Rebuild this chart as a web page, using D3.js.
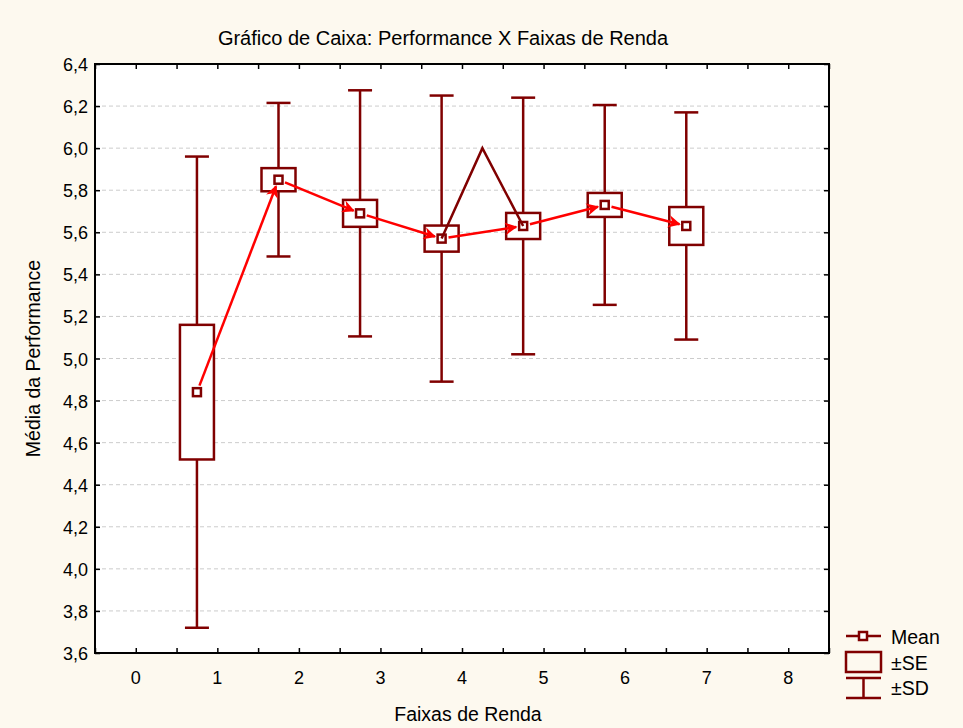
<!DOCTYPE html>
<html>
<head>
<meta charset="utf-8">
<script src="https://cdn.jsdelivr.net/npm/d3@7"></script>
<style>
  body { margin: 0; background: #fdf9ef; }
  svg { display: block; font-family: "Liberation Sans", Arial, sans-serif; }
</style>
</head>
<body>
<svg id="chart" width="963" height="728"></svg>
<script>
// data
var groups = [0.75, 1.75, 2.75, 3.75, 4.75, 5.75, 6.75]
var means = [4.84, 5.85, 5.69, 5.57, 5.63, 5.73, 5.63]
var se = [0.32, 0.055, 0.064, 0.062, 0.062, 0.057, 0.09]
var sd = [1.12, 0.365, 0.585, 0.68, 0.61, 0.475, 0.54]
// extra vertex of the dark mean line between groups 4 and 5
var peak = { x: 4.25, y: 6.0 }
var xTicks = [0, 1, 2, 3, 4, 5, 6, 7, 8]
var yTicks = [3.6, 3.8, 4.0, 4.2, 4.4, 4.6, 4.8, 5.0, 5.2, 5.4, 5.6, 5.8, 6.0, 6.2, 6.4]

var dark = '#800000'
var margin = { left: 95, right: 134, top: 64, bottom: 75 }
var width = 963 - margin.left - margin.right
var height = 728 - margin.top - margin.bottom

var svg = d3.select('#chart')
svg.append('defs').append('marker')
  .attr('id', 'arrow')
  .attr('viewBox', '0 0 10 10')
  .attr('refX', 9).attr('refY', 5)
  .attr('markerWidth', 6).attr('markerHeight', 5)
  .attr('markerUnits', 'strokeWidth')
  .attr('orient', 'auto')
  .append('path').attr('d', 'M0,0 L10,5 L0,10 L3,5 z').attr('fill', 'red')

var x = d3.scaleLinear().domain([-0.5, 8.5]).range([0, width])
var y = d3.scaleLinear().domain([3.6, 6.4]).range([height, 0])
var fmt = function (d) { return d3.format('.1f')(d).replace('.', ',') }

var g = svg.append('g').attr('transform', 'translate(' + margin.left + ',' + margin.top + ')')
g.append('rect').attr('width', width).attr('height', height).attr('fill', 'white')

// grid
g.selectAll('.grid').data(yTicks.slice(1, -1)).enter().append('line')
  .attr('x1', 0).attr('x2', width)
  .attr('y1', function (d) { return y(d) }).attr('y2', function (d) { return y(d) })
  .attr('stroke', '#cccccc').attr('stroke-dasharray', '4,3')

// axes (ticks pointing inward)
var xAxis = d3.axisBottom(x).tickValues(d3.range(-0.5, 8.51, 0.5)).tickSize(-5).tickFormat('')
g.append('g').attr('transform', 'translate(0,' + height + ')').call(xAxis)
g.append('g').call(d3.axisTop(x).tickValues(d3.range(-0.5, 8.51, 0.5)).tickSize(-5).tickFormat(''))
g.append('g').call(d3.axisLeft(y).tickValues(yTicks).tickSize(-5).tickFormat(''))
g.append('g').attr('transform', 'translate(' + width + ',0)')
  .call(d3.axisRight(y).tickValues(yTicks).tickSize(-5).tickFormat(''))
g.selectAll('.domain').remove()
g.selectAll('.tick line').attr('stroke', 'black').attr('stroke-width', 1.5)

g.selectAll('.xlab').data(xTicks).enter().append('text')
  .attr('x', function (d) { return x(d) }).attr('y', height + 31)
  .attr('text-anchor', 'middle').attr('font-size', 18).text(function (d) { return d })
g.selectAll('.ylab').data(yTicks).enter().append('text')
  .attr('x', -7).attr('y', function (d) { return y(d) + 7 })
  .attr('text-anchor', 'end').attr('font-size', 18).text(fmt)

// whiskers (±SD)
var cap = 12
var boxW = 17
var items = g.selectAll('.item').data(groups).enter().append('g')
items.append('line')
  .attr('x1', function (d) { return x(d) }).attr('x2', function (d) { return x(d) })
  .attr('y1', function (d, i) { return y(means[i] + sd[i]) })
  .attr('y2', function (d, i) { return y(means[i] - sd[i]) })
  .attr('stroke', dark).attr('stroke-width', 2.5)
;[1, -1].forEach(function (s) {
  items.append('line')
    .attr('x1', function (d) { return x(d) - cap }).attr('x2', function (d) { return x(d) + cap })
    .attr('y1', function (d, i) { return y(means[i] + s * sd[i]) })
    .attr('y2', function (d, i) { return y(means[i] + s * sd[i]) })
    .attr('stroke', dark).attr('stroke-width', 2.5)
})
// boxes (±SE)
items.append('rect')
  .attr('x', function (d) { return x(d) - boxW })
  .attr('width', boxW * 2)
  .attr('y', function (d, i) { return y(means[i] + se[i]) })
  .attr('height', function (d, i) { return y(means[i] - se[i]) - y(means[i] + se[i]) })
  .attr('fill', 'white').attr('stroke', dark).attr('stroke-width', 2.5)

// dark mean line segment with the peak
var line = d3.line().x(function (d) { return x(d[0]) }).y(function (d) { return y(d[1]) })
g.append('path')
  .attr('d', line([[groups[3], means[3]], [peak.x, peak.y], [groups[4], means[4]]]))
  .attr('fill', 'none').attr('stroke', dark).attr('stroke-width', 2.5)

// red arrows between consecutive means
for (var i = 0; i < groups.length - 1; i++) {
  var x0 = x(groups[i]), y0 = y(means[i]), x1 = x(groups[i + 1]), y1 = y(means[i + 1])
  var dx = x1 - x0, dy = y1 - y0, len = Math.sqrt(dx * dx + dy * dy)
  var s0 = 7, s1 = 7
  g.append('line')
    .attr('x1', x0 + dx * s0 / len).attr('y1', y0 + dy * s0 / len)
    .attr('x2', x1 - dx * s1 / len).attr('y2', y1 - dy * s1 / len)
    .attr('stroke', 'red').attr('stroke-width', 2.5)
    .attr('marker-end', 'url(#arrow)')
}

// mean markers
items.append('rect')
  .attr('x', function (d) { return x(d) - 4 }).attr('width', 8)
  .attr('y', function (d, i) { return y(means[i]) - 4 }).attr('height', 8)
  .attr('fill', 'white').attr('stroke', dark).attr('stroke-width', 2.5)

// frame
g.append('rect').attr('width', width).attr('height', height)
  .attr('fill', 'none').attr('stroke', 'black').attr('stroke-width', 2)

// titles
svg.append('text').attr('x', 443).attr('y', 45).attr('text-anchor', 'middle')
  .attr('font-size', 20).text('Gráfico de Caixa: Performance X Faixas de Renda')
svg.append('text').attr('x', 468).attr('y', 721).attr('text-anchor', 'middle')
  .attr('font-size', 19.5).text('Faixas de Renda')
svg.append('text').attr('transform', 'translate(40,' + (margin.top + height / 2) + ') rotate(-90)')
  .attr('text-anchor', 'middle').attr('font-size', 19.5).text('Média da Performance')

// legend
var lg = svg.append('g').attr('transform', 'translate(846,0)')
lg.append('line').attr('x1', 0).attr('x2', 35).attr('y1', 636).attr('y2', 636)
  .attr('stroke', dark).attr('stroke-width', 2.5)
lg.append('rect').attr('x', 13).attr('y', 632).attr('width', 8).attr('height', 8)
  .attr('fill', 'white').attr('stroke', dark).attr('stroke-width', 2.5)
lg.append('rect').attr('x', 0).attr('y', 652).attr('width', 35).attr('height', 20)
  .attr('fill', 'none').attr('stroke', dark).attr('stroke-width', 2.5)
lg.append('line').attr('x1', 0).attr('x2', 35).attr('y1', 678).attr('y2', 678)
  .attr('stroke', dark).attr('stroke-width', 2.5)
lg.append('line').attr('x1', 0).attr('x2', 35).attr('y1', 698).attr('y2', 698)
  .attr('stroke', dark).attr('stroke-width', 2.5)
lg.append('line').attr('x1', 17.5).attr('x2', 17.5).attr('y1', 678).attr('y2', 698)
  .attr('stroke', dark).attr('stroke-width', 2.5)
var lt = ['Mean', '±SE', '±SD']
lg.selectAll('.lt').data(lt).enter().append('text')
  .attr('x', 45).attr('y', function (d, i) { return 644 + i * 25.5 })
  .attr('font-size', 19.5).text(function (d) { return d })
</script>
</body>
</html>
